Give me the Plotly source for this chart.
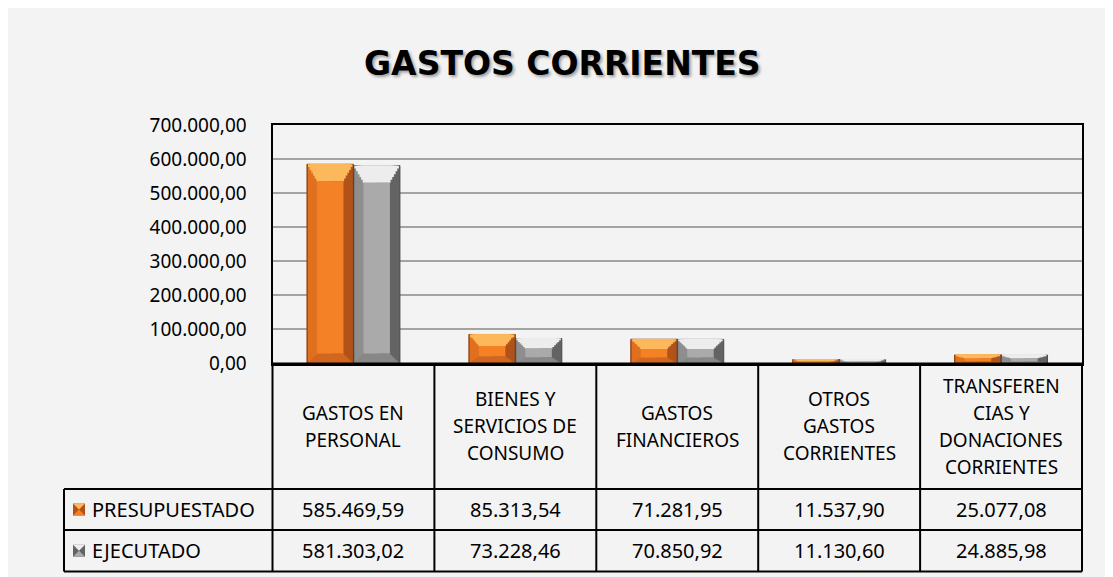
import plotly.graph_objects as go
import numpy as np

# ---------------- data ----------------
categories = ["GASTOS EN<br>PERSONAL", "BIENES Y<br>SERVICIOS DE<br>CONSUMO",
              "GASTOS<br>FINANCIEROS", "OTROS<br>GASTOS<br>CORRIENTES",
              "TRANSFEREN<br>CIAS Y<br>DONACIONES<br>CORRIENTES"]
series_names = ["PRESUPUESTADO", "EJECUTADO"]
presupuestado = [585469.59, 85313.54, 71281.95, 11537.90, 25077.08]
ejecutado = [581303.02, 73228.46, 70850.92, 11130.60, 24885.98]
y_ticks = [0, 100000, 200000, 300000, 400000, 500000, 600000, 700000]
title_text = "GASTOS CORRIENTES"


def fmt(v):
    s = f"{v:,.2f}"
    return s.replace(",", "X").replace(".", ",").replace("X", ".")


# ---------------- geometry helpers (page px -> paper) ----------------
W, H = 1105, 569
OX, OY = 8, 8


def PX(x):
    return (x - OX) / W


def PY(y):
    return 1 - (y - OY) / H


PL, PR, PT, PB = 272.5, 1082.0, 125.3, 363.5
COLW = (PR - PL) / 5
ROW1, ROW2, TBOT = 489.0, 530.0, 571.5
LEGL = 64.0
FONT = "Noto Sans"

x = np.arange(len(categories))
n = len(categories)
units_per_px = 700000 / (PB - PT)
cat_per_px = 1 / COLW

bar_w = 0.287
styles = {
    "PRESUPUESTADO": dict(offset=-bar_w, right="#b0521a", left="#e0701f", line="#8a3e0e",
                          face="#f58126", top="#fdb85c", bottom="#d0661f"),
    "EJECUTADO": dict(offset=0.0, right="#636363", left="#8e8e8e", line="#4a4a4a",
                      face="#aaaaaa", top="#ededed", bottom="#878787"),
}

fig = go.Figure()
STEPS = 6


def add_bar(xv, h, b, off, w, color, lw=0, lc=None):
    fig.add_trace(go.Bar(x=xv, y=h, base=b, width=w, offset=off,
                         marker=dict(color=color, line=dict(width=lw, color=lc or color)),
                         showlegend=False, hoverinfo="skip"))


for name, vals in zip(series_names, [presupuestado, ejecutado]):
    st = styles[name]
    v = np.array(vals)
    btop = np.minimum(17 * units_per_px, 0.4 * v)
    bbot = np.minimum(10 * units_per_px, 0.25 * v)
    side = 10 * cat_per_px
    off = st["offset"]
    # base (right side shading)
    add_bar(x, v, np.zeros(n), off, bar_w, st["right"], 1, st["line"])
    # left side shading
    add_bar(x, v, np.zeros(n), off + 1 * cat_per_px, bar_w * 0.5, st["left"])
    # top bevel (stepped trapezoid, overlapping strips)
    for k in range(STEPS):
        inset = side * k / STEPS + 1 * cat_per_px
        add_bar(x, btop * (k + 1) / STEPS, v - btop * (k + 1) / STEPS, off + inset,
                bar_w - 2 * inset, st["top"])
    # bottom bevel (stepped trapezoid, overlapping strips)
    for k in range(STEPS):
        inset = side * k / STEPS + 1 * cat_per_px
        add_bar(x, bbot * (k + 1) / STEPS, np.zeros(n), off + inset,
                bar_w - 2 * inset, st["bottom"])
    # face
    face_h = np.maximum(v - btop - bbot, 0)
    add_bar(x, face_h, bbot, off + side, bar_w - 2 * side, st["face"])

shapes = []
line_k = dict(color="black", width=2)
# table horizontal lines
for yy, x0 in [(PB, PL), (ROW1, LEGL), (ROW2, LEGL), (TBOT, LEGL)]:
    shapes.append(dict(type="line", xref="paper", yref="paper", x0=PX(x0), x1=PX(PR),
                       y0=PY(yy), y1=PY(yy), line=line_k))
# table vertical lines
shapes.append(dict(type="line", xref="paper", yref="paper", x0=PX(LEGL), x1=PX(LEGL),
                   y0=PY(ROW1), y1=PY(TBOT), line=line_k))
for i in range(n + 1):
    xx = PL + i * COLW
    shapes.append(dict(type="line", xref="paper", yref="paper", x0=PX(xx), x1=PX(xx),
                       y0=PY(PB), y1=PY(TBOT), line=line_k))

# legend keys
for name, yc in zip(series_names, [(ROW1 + ROW2) / 2, (ROW2 + TBOT) / 2]):
    st = styles[name]
    kx0, kx1 = 73, 85
    ky0, ky1 = yc - 6, yc + 6
    shapes.append(dict(type="rect", xref="paper", yref="paper", x0=PX(kx0), x1=PX(kx1),
                       y0=PY(ky1), y1=PY(ky0), fillcolor=st["right"], line=dict(width=0)))
    shapes.append(dict(type="path", xref="paper", yref="paper",
                       path=f"M {PX(kx0)},{PY(ky0)} L {PX(kx1)},{PY(ky0)} L {PX((kx0+kx1)/2)},{PY(yc)} Z",
                       fillcolor=st["top"], line=dict(width=0)))
    shapes.append(dict(type="path", xref="paper", yref="paper",
                       path=f"M {PX(kx0)},{PY(ky1)} L {PX(kx1)},{PY(ky1)} L {PX((kx0+kx1)/2)},{PY(yc)} Z",
                       fillcolor=st["face"], line=dict(width=0)))

annotations = []
# title
annotations.append(dict(text=f"<b>{title_text}</b>", xref="paper", yref="paper",
                        x=PX(562), y=PY(64), xanchor="center", yanchor="middle", showarrow=False,
                        font=dict(family="DejaVu Sans", size=33, color="black",
                                  shadow="2px 2px 3px rgba(0,0,0,0.35)")))
# header cells
for i, cat in enumerate(categories):
    lines = cat.split("<br>")
    k = len(lines)
    for j, ln in enumerate(lines):
        yc = 426 + (j - (k - 1) / 2) * 27
        annotations.append(dict(text=ln, xref="x", yref="paper", x=x[i], y=PY(yc),
                                xanchor="center", yanchor="middle", showarrow=False,
                                font=dict(family=FONT, size=19, color="black")))
# value rows
for vals, yc in zip([presupuestado, ejecutado], [(ROW1 + ROW2) / 2, (ROW2 + TBOT) / 2]):
    for i, v in enumerate(vals):
        annotations.append(dict(text=fmt(v), xref="x", yref="paper", x=x[i], y=PY(yc),
                                xanchor="center", yanchor="middle", showarrow=False,
                                font=dict(family=FONT, size=20, color="black")))
# row labels
for name, yc in zip(series_names, [(ROW1 + ROW2) / 2, (ROW2 + TBOT) / 2]):
    annotations.append(dict(text=name, xref="paper", yref="paper", x=PX(90), y=PY(yc),
                            xanchor="left", yanchor="middle", showarrow=False,
                            font=dict(family=FONT, size=20, color="black")))

fig.update_layout(
    width=W, height=H, autosize=False,
    margin=dict(l=0, r=0, t=0, b=0, pad=0, autoexpand=False),
    paper_bgcolor="#f3f3f3", plot_bgcolor="rgba(0,0,0,0)",
    barmode="overlay", showlegend=False,
    font=dict(family=FONT, color="black"),
    xaxis=dict(domain=[PX(PL), PX(PR)], range=[-0.5, n - 0.5], showticklabels=False,
               showgrid=False, zeroline=False, showline=True, mirror=True, automargin=False,
               linecolor="black", linewidth=2, fixedrange=True),
    yaxis=dict(domain=[PY(PB), PY(PT)], range=[0, 700000], tickvals=y_ticks,
               ticktext=[fmt(t) for t in y_ticks], tickfont=dict(family=FONT, size=19),
               ticklabelstandoff=20, showgrid=True, gridcolor="#a3a3a3", gridwidth=1.5,
               zeroline=False, showline=True, mirror=True, linecolor="black", linewidth=2,
               automargin=False, fixedrange=True),
    shapes=shapes, annotations=annotations,
)

fig.write_html("out.html")
